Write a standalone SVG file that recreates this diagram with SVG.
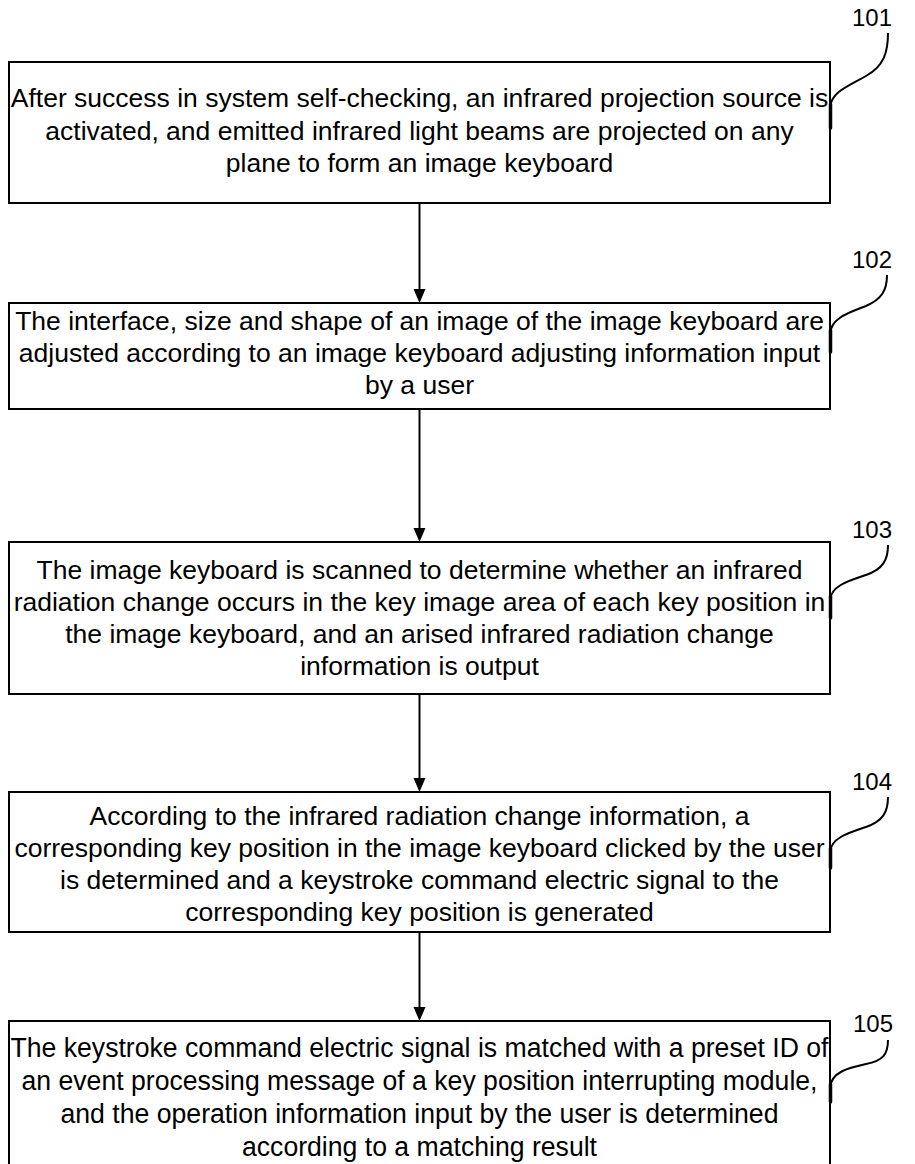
<svg xmlns="http://www.w3.org/2000/svg" width="915" height="1164" viewBox="0 0 915 1164">
<defs>
<style>
.box{fill:#fff;stroke:#000;stroke-width:2}
.t{font-family:"Liberation Sans",Arial,sans-serif;font-size:26.5px;fill:#000;text-anchor:middle}
.t5{font-family:"Liberation Sans",Arial,sans-serif;font-size:27px;fill:#000;text-anchor:middle}
.lbl{font-family:"Liberation Sans",Arial,sans-serif;font-size:24px;fill:#000;text-anchor:middle}
.conn{stroke:#000;stroke-width:2;fill:none}
.head{fill:#000;stroke:none}
.lead{stroke:#000;stroke-width:2;fill:none}
.leadend{stroke:#000;stroke-width:3.5;fill:none;stroke-linecap:round}
</style>
</defs>
<rect width="915" height="1164" fill="#fff"/>

<g id="connectors">
<line class="conn" x1="419.5" y1="203" x2="419.5" y2="290"/>
<path class="head" d="M413.5,289 L425.5,289 L419.5,303 Z"/>
<line class="conn" x1="419.5" y1="409" x2="419.5" y2="529"/>
<path class="head" d="M413.5,528 L425.5,528 L419.5,542 Z"/>
<line class="conn" x1="419.5" y1="694" x2="419.5" y2="779"/>
<path class="head" d="M413.5,778 L425.5,778 L419.5,792 Z"/>
<line class="conn" x1="419.5" y1="932" x2="419.5" y2="1008"/>
<path class="head" d="M413.5,1007 L425.5,1007 L419.5,1021 Z"/>
</g>

<g id="node101">
<rect class="box" x="9" y="62" width="821" height="141"/>
<text class="t" x="419.5" y="107">After success in system self-checking, an infrared projection source is</text>
<text class="t" x="419.5" y="140">activated, and emitted infrared light beams are projected on any</text>
<text class="t" x="419.5" y="172">plane to form an image keyboard</text>
<text class="lbl" x="872" y="26">101</text>
<path class="lead" d="M888,33 C888,52 884,66 866,76 C848,86 831,92 830,108"/>
<path class="leadend" d="M830.5,104 L830.5,128"/>
</g>

<g id="node102">
<rect class="box" x="9" y="303" width="821" height="106"/>
<text class="t" x="419.5" y="330">The interface, size and shape of an image of the image keyboard are</text>
<text class="t" x="419.5" y="362">adjusted according to an image keyboard adjusting information input</text>
<text class="t" x="419.5" y="394">by a user</text>
<text class="lbl" x="872" y="268">102</text>
<path class="lead" d="M887,275 C887,290 882,299 866,306 C848,313 831,318 830,334"/>
<path class="leadend" d="M830.5,330 L830.5,352"/>
</g>

<g id="node103">
<rect class="box" x="9" y="542" width="821" height="152"/>
<text class="t" x="419.5" y="579">The image keyboard is scanned to determine whether an infrared</text>
<text class="t" x="419.5" y="611">radiation change occurs in the key image area of each key position in</text>
<text class="t" x="419.5" y="643">the image keyboard, and an arised infrared radiation change</text>
<text class="t" x="419.5" y="675">information is output</text>
<text class="lbl" x="872" y="538">103</text>
<path class="lead" d="M888,545 C888,560 883,569 866,575 C848,581 831,586 830,600"/>
<path class="leadend" d="M830.5,596 L830.5,618"/>
</g>

<g id="node104">
<rect class="box" x="9" y="792" width="821" height="140"/>
<text class="t" x="419.5" y="825">According to the infrared radiation change information, a</text>
<text class="t" x="419.5" y="857">corresponding key position in the image keyboard clicked by the user</text>
<text class="t" x="419.5" y="889">is determined and a keystroke command electric signal to the</text>
<text class="t" x="419.5" y="921">corresponding key position is generated</text>
<text class="lbl" x="872" y="790">104</text>
<path class="lead" d="M888,797 C888,812 883,821 866,827 C848,833 831,838 830,852"/>
<path class="leadend" d="M830.5,848 L830.5,868"/>
</g>

<g id="node105">
<rect class="box" x="9" y="1021" width="821" height="160"/>
<text class="t5" x="419.5" y="1057" textLength="818" lengthAdjust="spacingAndGlyphs">The keystroke command electric signal is matched with a preset ID of</text>
<text class="t5" x="419.5" y="1090" textLength="796" lengthAdjust="spacingAndGlyphs">an event processing message of a key position interrupting module,</text>
<text class="t5" x="419.5" y="1123" textLength="718" lengthAdjust="spacingAndGlyphs">and the operation information input by the user is determined</text>
<text class="t5" x="419.5" y="1156" textLength="355" lengthAdjust="spacingAndGlyphs">according to a matching result</text>
<text class="lbl" x="873" y="1032">105</text>
<path class="lead" d="M888,1040 C888,1054 883,1061 866,1064 C848,1068 831,1072 830,1088"/>
<path class="leadend" d="M830.5,1084 L830.5,1102"/>
</g>
</svg>
